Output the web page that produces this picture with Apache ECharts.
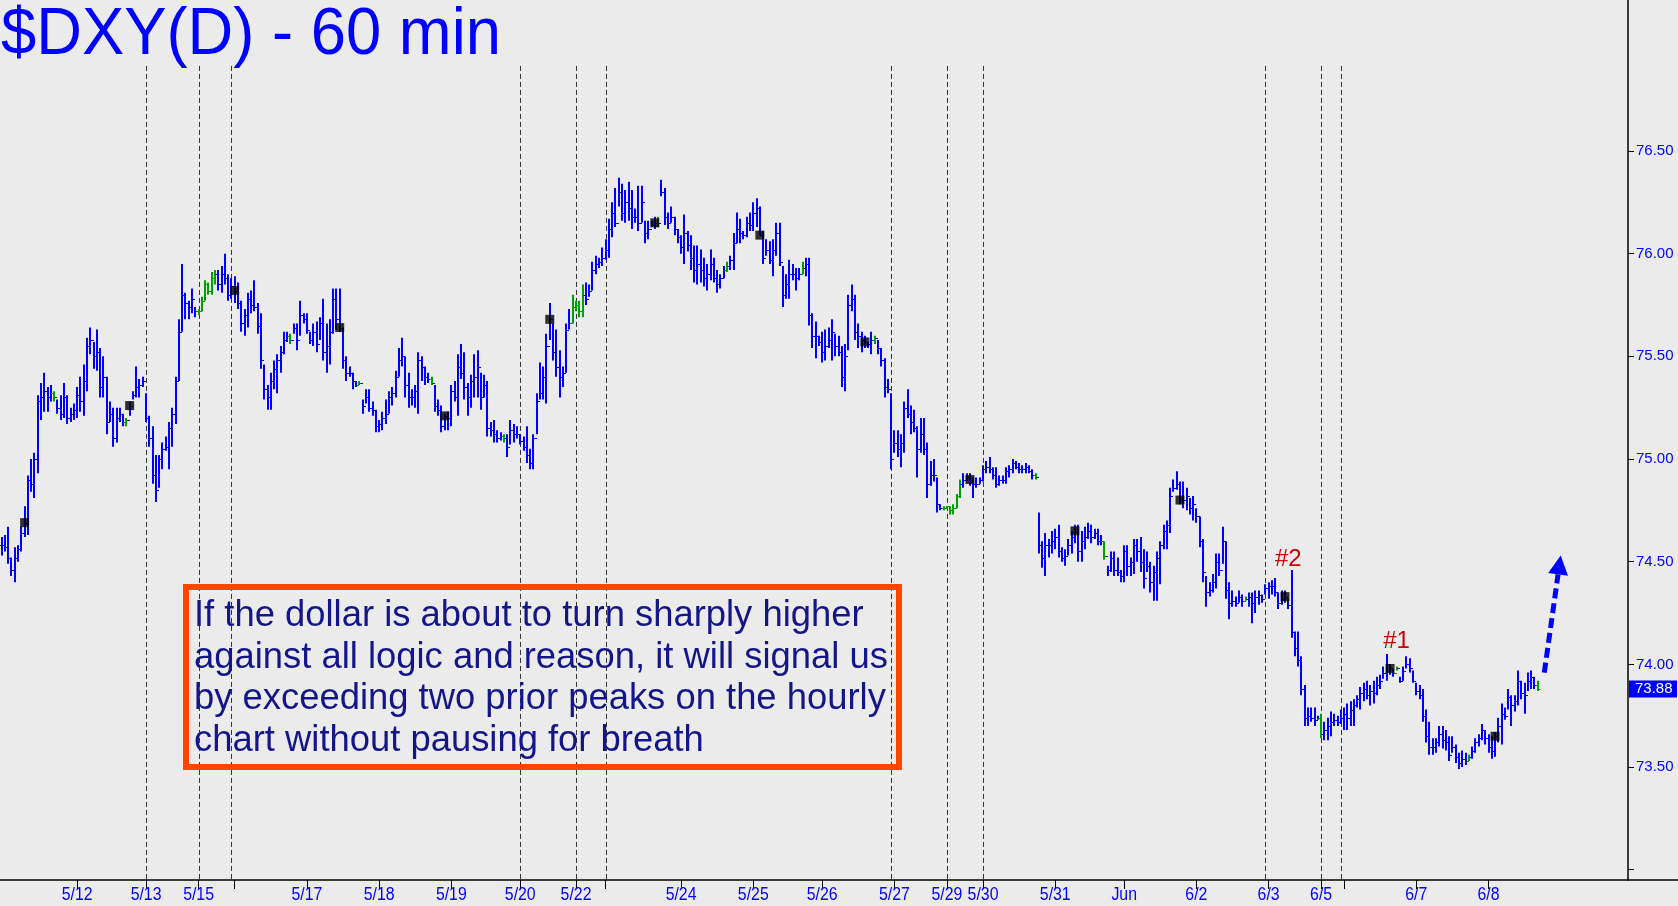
<!DOCTYPE html>
<html><head><meta charset="utf-8">
<script src="https://cdn.jsdelivr.net/npm/echarts@6/dist/echarts.min.js"></script>
<style>html,body{margin:0;padding:0;background:#ebebeb}#c{width:1678px;height:906px}</style>
</head><body><div id="c"></div>
<script>
// ---- data (hourly bars) ----
const highs = [
74.62,74.63,74.67,74.52,74.57,74.58,74.67,74.77,74.92,75.00,
75.03,75.31,75.37,75.42,75.35,75.36,75.33,75.29,75.31,75.37,
75.31,75.25,75.27,75.35,75.40,75.46,75.59,75.64,75.57,75.63,
75.54,75.50,75.40,75.28,75.25,75.25,75.25,75.22,75.20,75.28,
75.33,75.45,75.39,75.40,75.32,75.21,75.16,75.02,75.02,75.08,
75.11,75.18,75.25,75.40,75.68,75.95,75.81,75.77,75.83,75.74,
75.73,75.79,75.87,75.86,75.91,75.92,75.92,75.94,76.00,75.90,
75.88,75.89,75.86,75.77,75.73,75.81,75.82,75.87,75.76,75.71,
75.46,75.36,75.42,75.48,75.51,75.55,75.62,75.62,75.61,75.66,
75.66,75.77,75.71,75.71,75.62,75.66,75.67,75.69,75.78,75.66,
75.68,75.83,75.83,75.83,75.64,75.50,75.45,75.42,75.38,75.38,
75.29,75.34,75.34,75.28,75.24,75.19,75.23,75.29,75.33,75.35,
75.43,75.54,75.59,75.50,75.42,75.34,75.36,75.52,75.50,75.45,
75.42,75.40,75.36,75.29,75.26,75.22,75.23,75.36,75.38,75.51,
75.56,75.52,75.37,75.41,75.51,75.53,75.42,75.41,75.38,75.18,
75.19,75.14,75.13,75.12,75.12,75.19,75.17,75.16,75.12,75.11,
75.16,75.05,75.12,75.32,75.47,75.45,75.61,75.76,75.66,75.63,
75.53,75.45,75.66,75.73,75.80,75.77,75.77,75.85,75.86,75.85,
75.96,75.99,75.98,76.03,76.07,76.17,76.25,76.32,76.37,76.34,
76.31,76.35,76.31,76.22,76.33,76.33,76.16,76.16,76.16,76.18,
76.18,76.36,76.32,76.20,76.23,76.18,76.12,76.09,76.19,76.11,
76.09,76.04,76.04,76.02,75.98,75.95,76.02,75.98,75.92,75.90,
75.94,75.96,75.99,76.10,76.20,76.17,76.11,76.18,76.20,76.25,
76.27,76.23,76.11,76.07,76.06,76.07,76.15,76.15,75.94,75.90,
75.97,75.95,75.93,75.93,75.96,75.98,75.98,75.71,75.67,75.60,
75.62,75.63,75.64,75.68,75.61,75.60,75.55,75.56,75.80,75.85,
75.80,75.66,75.62,75.60,75.57,75.62,75.60,75.58,75.54,75.49,
75.39,75.32,75.14,75.14,75.12,75.28,75.34,75.26,75.24,75.16,
75.20,75.20,75.08,74.99,75.00,74.91,74.78,74.77,74.77,74.77,
74.78,74.83,74.90,74.93,74.93,74.93,74.91,74.91,74.91,74.97,
74.99,75.01,74.96,74.96,74.92,74.92,74.96,74.97,75.00,74.99,
74.98,74.97,74.98,74.97,74.95,74.93,74.74,74.60,74.64,74.61,
74.65,74.66,74.68,74.57,74.56,74.61,74.65,74.68,74.68,74.65,
74.67,74.69,74.68,74.66,74.66,74.63,74.60,74.48,74.55,74.55,
74.52,74.46,74.58,74.58,74.52,74.61,74.61,74.62,74.56,74.55,
74.50,74.48,74.55,74.60,74.68,74.70,74.86,74.90,74.94,74.89,
74.89,74.86,74.81,74.82,74.76,74.72,74.61,74.43,74.40,74.44,
74.54,74.54,74.67,74.60,74.40,74.36,74.33,74.36,74.34,74.33,
74.35,74.35,74.36,74.36,74.34,74.39,74.40,74.41,74.42,74.35,
74.36,74.36,74.32,74.46,74.16,74.16,74.04,73.90,73.79,73.79,
73.79,73.75,73.76,73.72,73.74,73.77,73.76,73.75,73.78,73.79,
73.81,73.82,73.83,73.85,73.89,73.91,73.92,73.90,73.92,73.94,
73.95,73.99,74.05,74.00,73.98,73.99,73.94,73.99,74.04,74.03,
73.97,73.91,73.90,73.88,73.78,73.72,73.64,73.64,73.70,73.70,
73.68,73.65,73.65,73.61,73.57,73.58,73.57,73.56,73.60,73.64,
73.66,73.71,73.68,73.66,73.65,73.67,73.74,73.81,73.79,73.88,
73.85,73.85,73.97,73.92,73.91,73.96,73.97,73.94,73.92];

const lows = [
74.53,74.55,74.49,74.43,74.40,74.50,74.55,74.62,74.63,74.84,
74.81,74.93,75.19,75.23,75.23,75.28,75.28,75.22,75.19,75.20,
75.17,75.18,75.19,75.20,75.23,75.21,75.33,75.51,75.44,75.43,
75.30,75.30,75.12,75.18,75.06,75.08,75.18,75.16,75.16,75.21,
75.29,75.30,75.30,75.35,75.18,75.06,74.88,74.79,74.86,74.95,
75.04,74.95,75.06,75.17,75.38,75.62,75.68,75.68,75.71,75.69,
75.70,75.72,75.77,75.80,75.80,75.85,75.82,75.81,75.85,75.77,
75.78,75.76,75.73,75.62,75.60,75.64,75.71,75.72,75.61,75.44,
75.29,75.24,75.24,75.34,75.32,75.42,75.51,75.57,75.56,75.61,
75.53,75.60,75.66,75.61,75.56,75.55,75.52,75.58,75.48,75.42,
75.46,75.61,75.63,75.62,75.44,75.38,75.40,75.34,75.35,75.36,
75.22,75.27,75.23,75.21,75.13,75.13,75.14,75.17,75.22,75.26,
75.30,75.40,75.45,75.30,75.25,75.26,75.25,75.22,75.38,75.36,
75.37,75.36,75.23,75.21,75.13,75.14,75.14,75.16,75.28,75.21,
75.39,75.29,75.21,75.25,75.30,75.30,75.24,75.30,75.11,75.11,
75.08,75.08,75.09,75.08,75.01,75.07,75.08,75.10,75.07,75.04,
74.98,74.95,74.95,75.12,75.29,75.29,75.27,75.58,75.48,75.40,
75.30,75.35,75.42,75.63,75.66,75.72,75.69,75.69,75.75,75.79,
75.82,75.90,75.93,75.94,75.97,75.98,76.08,76.13,76.23,76.16,
76.15,76.16,76.12,76.15,76.11,76.15,76.05,76.07,76.13,76.12,
76.13,76.28,76.14,76.12,76.15,76.09,76.05,76.00,75.95,76.01,
75.92,75.86,75.85,75.86,75.84,75.82,75.87,75.86,75.81,75.83,
75.88,75.91,75.92,75.92,76.05,76.05,76.07,76.08,76.11,76.11,
76.13,76.09,75.95,75.99,75.95,75.89,75.99,75.94,75.74,75.78,
75.78,75.87,75.82,75.87,75.90,75.89,75.65,75.54,75.49,75.55,
75.47,75.48,75.54,75.48,75.50,75.50,75.35,75.33,75.53,75.72,
75.58,75.54,75.52,75.54,75.54,75.51,75.56,75.51,75.45,75.30,
75.32,74.95,75.03,75.01,74.96,75.03,75.20,75.12,75.13,74.91,
75.03,75.02,74.81,74.87,74.89,74.74,74.75,74.75,74.76,74.73,
74.73,74.76,74.81,74.86,74.89,74.87,74.81,74.86,74.88,74.89,
74.93,74.93,74.90,74.86,74.87,74.88,74.88,74.91,74.93,74.95,
74.93,74.93,74.93,74.93,74.90,74.90,74.54,74.47,74.43,74.52,
74.54,74.56,74.52,74.50,74.48,74.53,74.54,74.59,74.50,74.50,
74.56,74.61,74.59,74.61,74.58,74.58,74.51,74.43,74.45,74.43,
74.43,74.40,74.40,74.43,74.43,74.44,74.50,74.45,74.37,74.45,
74.35,74.31,74.31,74.39,74.56,74.56,74.64,74.84,74.85,74.78,
74.76,74.75,74.73,74.70,74.69,74.57,74.40,74.28,74.33,74.35,
74.37,74.43,74.49,74.32,74.22,74.28,74.28,74.30,74.28,74.31,
74.28,74.20,74.25,74.29,74.30,74.34,74.32,74.34,74.33,74.27,
74.29,74.30,74.27,74.13,74.04,73.99,73.85,73.70,73.70,73.72,
73.70,73.73,73.64,73.63,73.63,73.65,73.70,73.70,73.71,73.68,
73.68,73.70,73.70,73.79,73.78,73.82,73.83,73.80,73.81,73.85,
73.88,73.93,73.92,73.95,73.94,73.97,73.91,73.92,73.98,73.96,
73.91,73.85,73.83,73.72,73.62,73.56,73.56,73.57,73.60,73.59,
73.58,73.53,73.57,73.52,73.49,73.50,73.51,73.53,73.54,73.57,
73.60,73.63,73.61,73.57,73.54,73.55,73.62,73.61,73.73,73.78,
73.70,73.77,73.80,73.83,73.76,73.87,73.88,73.88,73.87];

const closes = [
74.58,74.57,74.52,74.46,74.52,74.56,74.64,74.69,74.90,74.88,
75.00,75.28,75.30,75.33,75.30,75.32,75.30,75.25,75.22,75.30,
75.20,75.22,75.24,75.31,75.28,75.38,75.55,75.58,75.50,75.52,
75.35,75.40,75.18,75.22,75.10,75.20,75.22,75.18,75.19,75.26,
75.31,75.35,75.36,75.38,75.20,75.10,74.92,74.85,75.00,75.05,
75.06,75.15,75.22,75.38,75.62,75.80,75.76,75.74,75.78,75.72,
75.72,75.77,75.85,75.82,75.88,75.90,75.85,75.90,75.88,75.80,
75.84,75.82,75.76,75.66,75.70,75.78,75.75,75.74,75.65,75.48,
75.34,75.30,75.38,75.44,75.48,75.52,75.58,75.60,75.58,75.64,
75.58,75.70,75.68,75.63,75.58,75.62,75.56,75.66,75.52,75.55,
75.62,75.78,75.68,75.64,75.48,75.42,75.42,75.38,75.36,75.37,
75.26,75.30,75.25,75.24,75.16,75.17,75.20,75.22,75.30,75.32,
75.40,75.48,75.50,75.36,75.30,75.30,75.33,75.48,75.45,75.40,
75.39,75.37,75.26,75.24,75.16,75.21,75.20,75.33,75.30,75.45,
75.42,75.35,75.30,75.38,75.40,75.45,75.30,75.36,75.15,75.14,
75.12,75.10,75.11,75.10,75.06,75.14,75.12,75.12,75.09,75.06,
75.02,74.98,75.10,75.28,75.32,75.40,75.55,75.68,75.52,75.45,
75.40,75.42,75.63,75.66,75.74,75.75,75.72,75.80,75.78,75.82,
75.92,75.95,75.96,75.98,76.02,76.12,76.20,76.15,76.30,76.20,
76.25,76.22,76.18,76.18,76.15,76.25,76.10,76.12,76.14,76.15,
76.15,76.30,76.18,76.15,76.18,76.12,76.08,76.03,76.10,76.04,
75.98,75.92,75.95,75.92,75.88,75.90,75.95,75.88,75.85,75.88,
75.92,75.94,75.97,76.05,76.12,76.10,76.09,76.15,76.14,76.20,
76.22,76.09,75.98,76.02,75.97,76.02,76.10,75.96,75.80,75.85,
75.90,75.90,75.88,75.90,75.93,75.95,75.70,75.60,75.60,75.57,
75.52,75.55,75.58,75.62,75.55,75.52,75.40,75.50,75.75,75.78,
75.62,75.60,75.58,75.57,75.56,75.58,75.59,75.54,75.48,75.35,
75.34,75.00,75.08,75.05,75.08,75.25,75.22,75.18,75.15,75.05,
75.12,75.05,74.88,74.92,74.92,74.78,74.76,74.76,74.77,74.75,
74.76,74.82,74.88,74.90,74.91,74.90,74.88,74.88,74.90,74.95,
74.96,74.95,74.92,74.88,74.90,74.90,74.94,74.95,74.98,74.96,
74.95,74.95,74.96,74.94,74.92,74.91,74.58,74.52,74.58,74.58,
74.60,74.62,74.55,74.52,74.53,74.58,74.62,74.65,74.55,74.60,
74.62,74.65,74.62,74.64,74.60,74.60,74.53,74.46,74.52,74.46,
74.45,74.43,74.55,74.48,74.50,74.58,74.55,74.50,74.42,74.48,
74.40,74.45,74.52,74.58,74.65,74.68,74.82,74.86,74.88,74.80,
74.80,74.82,74.76,74.78,74.72,74.60,74.45,74.35,74.36,74.40,
74.50,74.46,74.60,74.36,74.30,74.31,74.30,74.33,74.31,74.32,
74.33,74.30,74.33,74.34,74.32,74.37,74.38,74.38,74.35,74.30,
74.32,74.33,74.29,74.16,74.08,74.02,73.88,73.74,73.75,73.74,
73.73,73.74,73.66,73.68,73.70,73.72,73.73,73.72,73.74,73.76,
73.74,73.78,73.80,73.83,73.86,73.88,73.85,73.87,73.86,73.90,
73.92,73.96,74.00,73.98,73.96,73.98,73.92,73.97,74.00,73.98,
73.92,73.87,73.85,73.75,73.65,73.60,73.60,73.62,73.66,73.63,
73.62,73.56,73.60,73.55,73.52,73.54,73.53,73.55,73.58,73.62,
73.64,73.68,73.64,73.60,73.58,73.65,73.70,73.76,73.75,73.84,
73.80,73.82,73.92,73.86,73.85,73.92,73.94,73.90,73.88];

const greenBars = [16,38,60,61,62,63,64,65,88,109,131,153,174,175,176,177,200,221,244,266,287,288,289,290,291,292,315,336,379,402,425,447,468];
const markerBars = [7,39,71,103,135,167,199,231,263,295,327,359,391,423,455];
const dayTickIdx  = [23,44,60,71,93,115,137,158,175,184,207,229,250,272,288,299,321,342,364,386,402,409,431,453];
const dayTickText = ['5/12','5/13','5/15','','5/17','5/18','5/19','5/20','5/22','','5/24','5/25','5/26','5/27','5/29','5/30','5/31','Jun','6/2','6/3','6/5','','6/7','6/8'];
const sessionLines = [44,60,70,158,175,184,271,288,299,385,402,408];
const yTickValues  = [73.0,73.5,74.0,74.5,75.0,75.5,76.0,76.5];
const yLabelValues = [73.5,74.0,74.5,75.0,75.5,76.0,76.5];
const signalNames  = ['#2','#1'];
const signalIdx    = [392,425];
const signalValue  = [74.51,74.11];
const arrowFrom = [470,73.96];
const arrowTo   = [475,74.53];
const lastPrice = 73.88;
const SLOTS = 496;
const Y_MIN = 72.95, Y_MAX = 77.235, SESSION_TOP = 76.914;

const BLUE = '#0000ff', GREEN = '#00a000';
const greenSet = new Set(greenBars);
const slots = Array.from({length: SLOTS}, (_, i) => String(i));
const tickMap = {};
dayTickIdx.forEach((d, k) => { tickMap[d] = dayTickText[k]; });

const barData = highs.map((h, i) => [i, i === 0 ? closes[0] : closes[i - 1], h, lows[i], closes[i]]);
const markerData = markerBars.map(i => [i, closes[i]]);
const dayLabelData = dayTickIdx.map((d, k) => [d, Y_MIN, k]).filter(r => dayTickText[r[2]] !== '');

const chart = echarts.init(document.getElementById('c'), null, {renderer: 'canvas'});
const option = {
  animation: false,
  backgroundColor: '#ebebeb',
  grid: {left: 0, right: 50, top: 0, bottom: 26, containLabel: false},
  xAxis: {
    type: 'category', data: slots, boundaryGap: true,
    axisLine: {show: true, lineStyle: {color: '#000', width: 1.5}},
    axisTick: {show: true, alignWithLabel: true, length: 9, interval: (i) => tickMap[i] !== undefined, lineStyle: {color: '#000', width: 1}},
    axisLabel: {show: false},
    splitLine: {show: false}
  },
  yAxis: {
    type: 'value', position: 'right', min: Y_MIN, max: Y_MAX, scale: true,
    axisLine: {show: true, lineStyle: {color: '#000', width: 1.5}},
    axisTick: {show: true, length: 6, customValues: yTickValues, lineStyle: {color: '#000'}},
    axisLabel: {show: true, customValues: yLabelValues, formatter: v => Number(v).toFixed(2),
      color: BLUE, fontSize: 15, fontFamily: '"Liberation Sans", Arial', margin: 8},
    splitLine: {show: false}
  },
  series: [
    { type: 'custom', z: 1, silent: true, data: sessionLines.map(i => [i, SESSION_TOP]),
      renderItem(params, api) {
        const p = api.coord([api.value(0), api.value(1)]);
        const x = Math.round(p[0]) + 0.5;
        const yBot = params.coordSys.y + params.coordSys.height;
        return {type: 'line', shape: {x1: x, y1: p[1], x2: x, y2: yBot},
          style: {stroke: '#333', lineWidth: 1, lineDash: [5, 3]}};
      } },
    { type: 'custom', z: 2, silent: true, data: barData, encode: {x: 0, y: [1, 2, 3, 4]},
      renderItem(params, api) {
        const i = api.value(0);
        const pH = api.coord([i, api.value(2)]);
        const pL = api.coord([i, api.value(3)]);
        const pO = api.coord([i, api.value(1)]);
        const pC = api.coord([i, api.value(4)]);
        const x = Math.round(pH[0]);
        const col = greenSet.has(i) ? GREEN : BLUE;
        let y1 = pH[1], y2 = pL[1];
        if (y2 - y1 < 2) { y1 -= 1; y2 += 1; }
        return {type: 'group', children: [
          {type: 'line', shape: {x1: x, y1: y1, x2: x, y2: y2}, style: {stroke: col, lineWidth: 2}},
          {type: 'line', shape: {x1: x - 2.5, y1: Math.round(pO[1]) + 0.5, x2: x, y2: Math.round(pO[1]) + 0.5}, style: {stroke: col, lineWidth: 1}},
          {type: 'line', shape: {x1: x, y1: Math.round(pC[1]) + 0.5, x2: x + 2.5, y2: Math.round(pC[1]) + 0.5}, style: {stroke: col, lineWidth: 1}}
        ]};
      } },
    { type: 'scatter', z: 3, silent: true, data: markerData, symbol: 'rect', symbolSize: 9,
      itemStyle: {color: '#000'} },
    { type: 'custom', z: 4, silent: true, data: signalIdx.map((d, k) => [d, signalValue[k], k]),
      renderItem(params, api) {
        const p = api.coord([api.value(0), api.value(1)]);
        return {type: 'text', x: p[0], y: p[1],
          style: {text: signalNames[api.value(2)], fill: '#cc0000', font: '24px "Liberation Sans", Arial',
            align: 'center', verticalAlign: 'middle'}};
      } },
    { type: 'custom', z: 4, silent: true, data: [[arrowFrom[0], arrowFrom[1], arrowTo[0], arrowTo[1]]],
      renderItem(params, api) {
        const a = api.coord([api.value(0), api.value(1)]);
        const b = api.coord([api.value(2), api.value(3)]);
        const dx = b[0] - a[0], dy = b[1] - a[1];
        const len = Math.sqrt(dx * dx + dy * dy);
        const ux = dx / len, uy = dy / len;
        const hl = 19, hw = 10;
        const bx = b[0] - ux * hl, by = b[1] - uy * hl;
        return {type: 'group', children: [
          {type: 'line', shape: {x1: a[0], y1: a[1], x2: bx, y2: by},
            style: {stroke: BLUE, lineWidth: 5, lineDash: [10, 5]}},
          {type: 'polygon', shape: {points: [[b[0], b[1]], [bx - uy * hw, by + ux * hw], [bx + uy * hw, by - ux * hw]]},
            style: {fill: BLUE}}
        ]};
      } },
    { type: 'custom', z: 5, silent: true, data: [[highs.length - 1, lastPrice]],
      renderItem(params, api) {
        const p = api.coord([api.value(0), api.value(1)]);
        const x0 = params.coordSys.x + params.coordSys.width + 1;
        const h = 17;
        return {type: 'group', children: [
          {type: 'rect', shape: {x: x0, y: p[1] - h / 2, width: 48, height: h}, style: {fill: BLUE}},
          {type: 'text', x: x0 + 6, y: p[1], style: {text: lastPrice.toFixed(2), fill: '#fff',
            font: '15px "Liberation Sans", Arial', align: 'left', verticalAlign: 'middle'}}
        ]};
      } },
    { type: 'custom', z: 5, silent: true, data: dayLabelData,
      renderItem(params, api) {
        const p = api.coord([api.value(0), api.value(1)]);
        const y = params.coordSys.y + params.coordSys.height + 15;
        return {type: 'text', x: p[0], y: y, scaleX: 0.88,
          style: {text: dayTickText[api.value(2)], fill: BLUE, font: '18px "Liberation Sans", Arial',
            align: 'center', verticalAlign: 'middle'}};
      } }
  ],
  graphic: [
    {type: 'text', x: 1, y: 3, scaleX: 0.96, z: 10,
      style: {text: '$DXY(D) - 60 min', fill: BLUE, font: '66px "Liberation Sans", Arial', verticalAlign: 'top'}},
    {type: 'rect', z: 10, shape: {x: 186, y: 587, width: 713, height: 180},
      style: {fill: 'rgba(0,0,0,0)', stroke: '#ff4500', lineWidth: 6}},
    {type: 'text', x: 194, y: 595, z: 10,
      style: {text: 'If the dollar is about to turn sharply higher\nagainst all logic and reason, it will signal us\nby exceeding two prior peaks on the hourly\nchart without pausing for breath',
        fill: '#15158a', font: '36.4px "Liberation Sans", Arial', lineHeight: 41.7, verticalAlign: 'top'}},
    {type: 'line', z: 10, shape: {x1: 1628, y1: 880, x2: 1678, y2: 880}, style: {stroke: '#000', lineWidth: 1.5}}
  ]
};
chart.setOption(option);
</script>
</body></html>
